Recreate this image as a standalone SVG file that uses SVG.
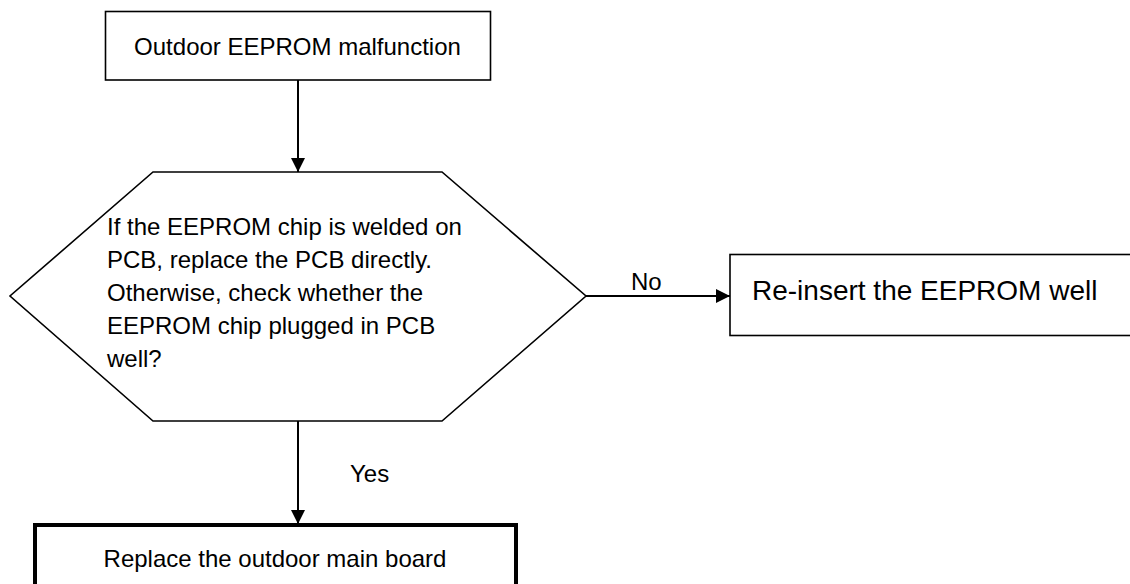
<svg xmlns="http://www.w3.org/2000/svg" width="1130" height="584" viewBox="0 0 1130 584">
<style>
.box{fill:#fff;stroke:#000;stroke-width:1.6}
.thick{fill:#fff;stroke:#000;stroke-width:4}
.line{stroke:#000;stroke-width:2;fill:none}
text{font-family:"Liberation Sans",Arial,sans-serif;font-size:24px;fill:#000}
</style>
<defs>
<marker id="arr" markerUnits="userSpaceOnUse" markerWidth="14" markerHeight="14" viewBox="0 0 14 14" refX="14" refY="7" orient="auto">
<path d="M0,0 L14,7 L0,14 Z" fill="#000"/>
</marker>
</defs>
<g id="n1">
<rect class="box" x="105.5" y="11.5" width="385" height="68.5"/>
<text x="297.5" y="55" text-anchor="middle">Outdoor EEPROM malfunction</text>
</g>
<g id="n2">
<polygon class="box" points="153,172 442,172 586,296 442,421 153,421 10,296"/>
<text x="107" y="235">If the EEPROM chip is welded on</text>
<text x="107" y="268">PCB, replace the PCB directly.</text>
<text x="107" y="301">Otherwise, check whether the</text>
<text x="107" y="334">EEPROM chip plugged in PCB</text>
<text x="107" y="367">well?</text>
</g>
<g id="n3">
<rect class="box" x="730" y="254.5" width="420" height="81"/>
<text x="752" y="300" style="font-size:28px">Re-insert the EEPROM well</text>
</g>
<g id="n4">
<rect class="thick" x="35" y="525" width="481" height="100"/>
<text x="275" y="567" text-anchor="middle">Replace the outdoor main board</text>
</g>
<g id="connectors">
<line class="line" x1="298" y1="80" x2="298" y2="172" marker-end="url(#arr)"/>
<line class="line" x1="586" y1="296" x2="730" y2="296" marker-end="url(#arr)"/>
<text x="631" y="290">No</text>
<line class="line" x1="298" y1="421" x2="298" y2="524" marker-end="url(#arr)"/>
<text x="350" y="482">Yes</text>
</g>
</svg>
